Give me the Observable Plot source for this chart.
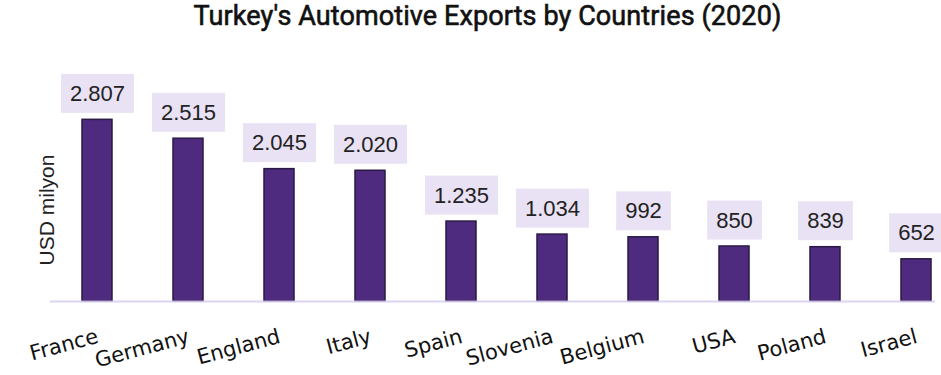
<!DOCTYPE html>
<html>
<head>
<meta charset="utf-8">
<script src="https://cdn.jsdelivr.net/npm/d3@7"></script>
<script src="https://cdn.jsdelivr.net/npm/@observablehq/plot@0.6"></script>
<style>
  body { margin: 0; background: #fff; }
  #chart { width: 941px; height: 375px; position: relative; overflow: hidden; }
  #chart h1 {
    margin: 0; height: 48px; line-height: 37px;
    font: 400 27px Roboto, sans-serif; color: #111;
    -webkit-text-stroke: 0.6px #111; letter-spacing: 0.1px;
    text-align: center; position: relative; left: 17px; white-space: nowrap;
  }
  #chart svg { display: block; }
</style>
</head>
<body>
<div id="chart"><h1 id="title"></h1></div>
<script>
const title = "Turkey's Automotive Exports by Countries (2020)";
const yAxisLabel = "USD milyon";
const countries = ["France", "Germany", "England", "Italy", "Spain", "Slovenia", "Belgium", "USA", "Poland", "Israel"];
const exportsUsdMn = [2807, 2515, 2045, 2020, 1235, 1034, 992, 850, 839, 652];

const rows = countries.map((country, i) => ({country, value: exportsUsdMn[i]}));

// Turkish-style grouping: 2.807
const trFormat = d3.formatLocale({decimal: ",", thousands: ".", grouping: [3], currency: ["", ""]}).format(",d");

document.getElementById("title").textContent = title;

const plot = Plot.plot({
  width: 941,
  height: 327,
  marginTop: 20,
  marginBottom: 74,
  marginLeft: 50,
  marginRight: 6,
  x: {domain: countries, paddingInner: 0.671, paddingOuter: 0.193, align: 0.88, axis: null},
  y: {domain: [0, 3600], axis: null},
  marks: [
    Plot.barY(rows, {x: "country", y: "value", fill: "#4e2b7e", stroke: "#2b1945", strokeWidth: 1.5}),
    Plot.ruleY([0], {stroke: "#d6ccee", strokeWidth: 2, strokeOpacity: 0.85}),
    Plot.text(rows, {
      x: "country", y: "value", text: d => trFormat(d.value), dy: -26,
      lineAnchor: "middle", fontSize: 22, fill: "#222",
      fontFamily: "'Liberation Sans', Arial, sans-serif", ariaDescription: "value labels"
    }),
    Plot.text(rows, {
      x: "country", y: 0, text: "country", dx: 2, dy: 41, rotate: -15,
      textAnchor: "end", lineAnchor: "bottom", fontSize: 21, fill: "#111",
      fontFamily: "'DejaVu Sans', sans-serif"
    }),
    Plot.text([yAxisLabel], {
      frameAnchor: "left", text: d => d, rotate: -90, dx: -3, dy: 25,
      lineAnchor: "middle", textAnchor: "middle", fontSize: 21, fill: "#222",
      fontFamily: "'Liberation Sans', Arial, sans-serif"
    })
  ]
});

document.getElementById("chart").appendChild(plot);

// Lavender boxes behind the value labels, sized to each rendered label
const svgBox = plot.getBoundingClientRect();
const labelGroup = plot.querySelector('g[aria-description="value labels"]');
if (labelGroup) {
  const boxes = document.createElementNS("http://www.w3.org/2000/svg", "g");
  labelGroup.parentNode.insertBefore(boxes, labelGroup);
  labelGroup.querySelectorAll("text").forEach(t => {
    const b = t.getBoundingClientRect();
    const cx = b.left + b.width / 2 - svgBox.left;
    const cy = b.top + b.height / 2 - svgBox.top;
    const r = document.createElementNS("http://www.w3.org/2000/svg", "rect");
    r.setAttribute("x", cx - b.width / 2 - 9);
    r.setAttribute("width", b.width + 18);
    r.setAttribute("y", cy - 19.5);
    r.setAttribute("height", 39);
    r.setAttribute("fill", "#e9e1f4");
    boxes.appendChild(r);
  });
}
</script>
</body>
</html>
